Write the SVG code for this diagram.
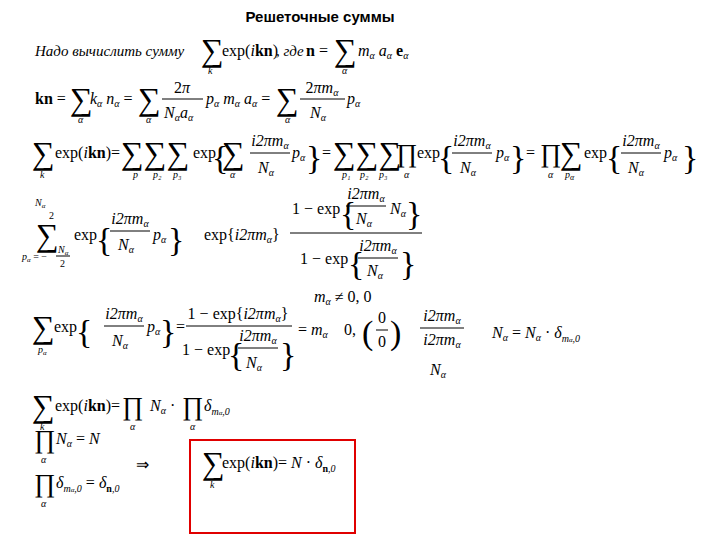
<svg xmlns="http://www.w3.org/2000/svg" width="720" height="540" viewBox="0 0 720 540">
<style>
text{font-family:"Liberation Serif",serif;font-size:16px;fill:#000}
.i{font-style:italic}
.b{font-weight:bold}
.s{font-size:32px}
.p{font-size:26px}
.u{font-size:10px;font-style:italic}
.br{font-size:34px}
line{stroke:#000;stroke-width:1}
</style>
<rect width="720" height="540" fill="#fff"/>
<text x="320" y="22" text-anchor="middle" style="font-family:'Liberation Sans',sans-serif;font-weight:bold;font-size:15px">Решеточные суммы</text>

<!-- line 1 -->
<text x="35" y="56" class="i" style="font-size:15px">Надо вычислить сумму</text>
<text x="201" y="61" class="s">∑</text><text x="208" y="74" class="u">k</text>
<text x="222" y="56">exp(<tspan class="i">i</tspan><tspan class="b">kn</tspan>)</text>
<text x="276" y="56" class="i" style="font-size:15px">, где</text>
<text x="306" y="56"><tspan class="b">n</tspan> =</text>
<text x="334" y="61" class="s">∑</text><text x="342" y="74" class="u">α</text>
<text x="358" y="56" class="i">m<tspan class="u" dy="3">α</tspan><tspan dy="-3"> a</tspan><tspan class="u" dy="3">α</tspan><tspan dy="-3" class="b" style="font-style:normal"> e</tspan><tspan class="u" dy="3">α</tspan></text>

<!-- line 2 -->
<text x="35" y="104"><tspan class="b">kn</tspan> =</text>
<text x="70" y="110" class="s">∑</text><text x="78" y="123" class="u">α</text>
<text x="90" y="104" class="i">k<tspan class="u" dy="3">α</tspan><tspan dy="-3"> n</tspan><tspan class="u" dy="3">α</tspan><tspan dy="-3" style="font-style:normal"> =</tspan></text>
<text x="138" y="110" class="s">∑</text><text x="146" y="123" class="u">α</text>
<text x="182" y="93" text-anchor="middle">2<tspan class="i">π</tspan></text>
<line x1="162" y1="99" x2="203" y2="99"/>
<text x="164" y="118" class="i">N<tspan class="u" dy="3">α</tspan><tspan dy="-3">a</tspan><tspan class="u" dy="3">α</tspan></text>
<text x="206" y="104" class="i">p<tspan class="u" dy="3">α</tspan><tspan dy="-3"> m</tspan><tspan class="u" dy="3">α</tspan><tspan dy="-3"> a</tspan><tspan class="u" dy="3">α</tspan><tspan dy="-3" style="font-style:normal"> =</tspan></text>
<text x="276" y="110" class="s">∑</text><text x="285" y="123" class="u">α</text>
<text x="322" y="93" text-anchor="middle">2<tspan class="i">πm</tspan><tspan class="u" dy="3">α</tspan></text>
<line x1="300" y1="99" x2="345" y2="99"/>
<text x="310" y="118" class="i">N<tspan class="u" dy="3">α</tspan></text>
<text x="347" y="104" class="i">p<tspan class="u" dy="3">α</tspan></text>

<!-- line 3 -->
<text x="32" y="164" class="s">∑</text><text x="40" y="178" class="u">k</text>
<text x="55" y="158">exp(<tspan class="i">i</tspan><tspan class="b">kn</tspan>)=</text>
<text x="121" y="164" class="s">∑∑∑</text>
<text x="133" y="178" class="u">p</text><text x="153" y="178" class="u">p₂</text><text x="173" y="178" class="u">p₃</text>
<text x="193" y="158">exp</text>
<text x="212" y="169" class="br">{</text>
<text x="222" y="164" class="s">∑</text><text x="230" y="178" class="u">α</text>
<text x="270" y="146" text-anchor="middle" class="i">i2πm<tspan class="u" dy="3">α</tspan></text>
<line x1="250" y1="153" x2="290" y2="153"/>
<text x="258" y="173" class="i">N<tspan class="u" dy="3">α</tspan></text>
<text x="292" y="158" class="i">p<tspan class="u" dy="3">α</tspan></text>
<text x="306" y="169" class="br">}</text>
<text x="322" y="158">=</text>
<text x="333" y="164" class="s">∑∑∑</text>
<text x="342" y="178" class="u">p₁</text><text x="360" y="178" class="u">p₂</text><text x="379" y="178" class="u">p₃</text>
<text x="396" y="162" class="p">∏</text><text x="404" y="178" class="u">α</text>
<text x="417" y="158">exp</text>
<text x="438" y="169" class="br">{</text>
<text x="472" y="146" text-anchor="middle" class="i">i2πm<tspan class="u" dy="3">α</tspan></text>
<line x1="452" y1="153" x2="492" y2="153"/>
<text x="460" y="173" class="i">N<tspan class="u" dy="3">α</tspan></text>
<text x="496" y="158" class="i">p<tspan class="u" dy="3">α</tspan></text>
<text x="510" y="169" class="br">}</text>
<text x="526" y="158">=</text>
<text x="540" y="162" class="p">∏</text><text x="548" y="178" class="u">α</text>
<text x="560" y="164" class="s">∑</text><text x="565" y="178" class="u">p<tspan dy="2" style="font-size:8px">α</tspan></text>
<text x="584" y="158">exp</text>
<text x="606" y="169" class="br">{</text>
<text x="641" y="146" text-anchor="middle" class="i">i2πm<tspan class="u" dy="3">α</tspan></text>
<line x1="621" y1="153" x2="661" y2="153"/>
<text x="628" y="173" class="i">N<tspan class="u" dy="3">α</tspan></text>
<text x="664" y="158" class="i">p<tspan class="u" dy="3">α</tspan></text>
<text x="682" y="169" class="br">}</text>

<!-- line 4 -->
<text x="35" y="206" class="u">N<tspan dy="2" style="font-size:7px">α</tspan></text>
<text x="49" y="219" class="u" style="font-style:normal">2</text>
<text x="36" y="246" class="s">∑</text>
<text x="22" y="260" class="u">p<tspan dy="2" style="font-size:7px">α</tspan><tspan dy="-2" style="font-style:normal"> = −</tspan></text>
<text x="58" y="253" class="u">N<tspan dy="2" style="font-size:7px">α</tspan></text>
<line x1="56" y1="256" x2="70" y2="256"/>
<text x="60" y="267" class="u" style="font-style:normal">2</text>
<text x="74" y="240">exp</text>
<text x="96" y="251" class="br">{</text>
<text x="130" y="224" text-anchor="middle" class="i">i2πm<tspan class="u" dy="3">α</tspan></text>
<line x1="110" y1="231" x2="150" y2="231"/>
<text x="118" y="250" class="i">N<tspan class="u" dy="3">α</tspan></text>
<text x="153" y="240" class="i">p<tspan class="u" dy="3">α</tspan></text>
<text x="168" y="251" class="br">}</text>
<text x="204" y="240">exp{<tspan class="i">i2πm</tspan><tspan class="u" dy="3">α</tspan><tspan dy="-3">}</tspan></text>
<line x1="290" y1="233" x2="422" y2="233"/>
<text x="292" y="214">1 − exp</text>
<text x="340" y="225" class="br">{</text>
<text x="366" y="199" text-anchor="middle" class="i">i2πm<tspan class="u" dy="3">α</tspan></text>
<line x1="346" y1="206" x2="386" y2="206"/>
<text x="356" y="224" class="i">N<tspan class="u" dy="3">α</tspan></text>
<text x="390" y="214" class="i">N<tspan class="u" dy="3">α</tspan></text>
<text x="406" y="225" class="br">}</text>
<text x="300" y="264">1 − exp</text>
<text x="348" y="275" class="br">{</text>
<text x="378" y="251" text-anchor="middle" class="i">i2πm<tspan class="u" dy="3">α</tspan></text>
<line x1="358" y1="258" x2="398" y2="258"/>
<text x="367" y="276" class="i">N<tspan class="u" dy="3">α</tspan></text>
<text x="400" y="275" class="br">}</text>

<text x="314" y="302" class="i">m<tspan class="u" dy="3">α</tspan><tspan dy="-3" style="font-style:normal"> ≠ 0, 0</tspan></text>

<!-- line 5 -->
<text x="32" y="338" class="s">∑</text><text x="38" y="353" class="u">p<tspan dy="2" style="font-size:7px">α</tspan></text>
<text x="54" y="332">exp</text>
<text x="76" y="343" class="br">{</text>
<text x="124" y="319" text-anchor="middle" class="i">i2πm<tspan class="u" dy="3">α</tspan></text>
<line x1="104" y1="326" x2="144" y2="326"/>
<text x="112" y="346" class="i">N<tspan class="u" dy="3">α</tspan></text>
<text x="147" y="332" class="i">p<tspan class="u" dy="3">α</tspan></text>
<text x="160" y="343" class="br">}</text>
<text x="176" y="332">=</text>
<text x="238" y="319" text-anchor="middle">1 − exp{<tspan class="i">i2πm</tspan><tspan class="u" dy="3">α</tspan><tspan dy="-3">}</tspan></text>
<line x1="186" y1="326" x2="292" y2="326"/>
<text x="182" y="355">1 − exp</text>
<text x="228" y="366" class="br">{</text>
<text x="258" y="341" text-anchor="middle" class="i">i2πm<tspan class="u" dy="3">α</tspan></text>
<line x1="238" y1="348" x2="278" y2="348"/>
<text x="246" y="368" class="i">N<tspan class="u" dy="3">α</tspan></text>
<text x="280" y="366" class="br">}</text>
<text x="298" y="335">= <tspan class="i">m</tspan><tspan class="u" dy="3">α</tspan></text>
<text x="344" y="335">0,</text>
<text x="362" y="344" class="br">(</text>
<text x="382" y="323" text-anchor="middle">0</text>
<line x1="376" y1="330" x2="388" y2="330"/>
<text x="382" y="347" text-anchor="middle">0</text>
<text x="390" y="344" class="br">)</text>
<text x="442" y="321" text-anchor="middle" class="i">i2πm<tspan class="u" dy="3">α</tspan></text>
<line x1="420" y1="328" x2="464" y2="328"/>
<text x="442" y="345" text-anchor="middle" class="i">i2πm<tspan class="u" dy="3">α</tspan></text>
<text x="430" y="375" class="i">N<tspan class="u" dy="3">α</tspan></text>
<text x="492" y="338" class="i">N<tspan class="u" dy="3">α</tspan><tspan dy="-3" style="font-style:normal"> = </tspan>N<tspan class="u" dy="3">α</tspan><tspan dy="-3" style="font-style:normal"> · </tspan>δ<tspan class="u" dy="4">m<tspan style="font-size:7px">α</tspan>,0</tspan></text>

<!-- line 6 -->
<text x="32" y="417" class="s">∑</text><text x="40" y="430" class="u">k</text>
<text x="55" y="411">exp(<tspan class="i">i</tspan><tspan class="b">kn</tspan>)=</text>
<text x="122" y="415" class="p">∏</text><text x="130" y="430" class="u">α</text>
<text x="150" y="411" class="i">N<tspan class="u" dy="3">α</tspan><tspan dy="-3" style="font-style:normal"> ·</tspan></text>
<text x="182" y="415" class="p">∏</text><text x="190" y="430" class="u">α</text>
<text x="204" y="411" class="i">δ<tspan class="u" dy="4">m<tspan style="font-size:7px">α</tspan>,0</tspan></text>

<!-- line 7 -->
<text x="34" y="448" class="p">∏</text><text x="41" y="463" class="u">α</text>
<text x="56" y="444" class="i">N<tspan class="u" dy="3">α</tspan><tspan dy="-3" style="font-style:normal"> = </tspan>N</text>

<!-- line 8 -->
<text x="34" y="492" class="p">∏</text><text x="41" y="507" class="u">α</text>
<text x="56" y="488" class="i">δ<tspan class="u" dy="4">m<tspan style="font-size:7px">α</tspan>,0</tspan><tspan dy="-4" style="font-style:normal"> = </tspan>δ<tspan class="u b" dy="4" style="font-style:normal">n<tspan class="i" style="font-weight:normal">,0</tspan></tspan></text>
<text x="136" y="470">⇒</text>

<!-- result box -->
<g id="result">
<rect x="190" y="440" width="165" height="93" fill="none" stroke="#e00000" stroke-width="2"/>
<text x="202" y="474" class="s">∑</text><text x="210" y="488" class="u">k</text>
<text x="222" y="468">exp(<tspan class="i">i</tspan><tspan class="b">kn</tspan>)= <tspan class="i">N</tspan> · <tspan class="i">δ</tspan><tspan class="u b" dy="4" style="font-style:normal">n<tspan class="i" style="font-weight:normal">,0</tspan></tspan></text>
</g>
</svg>
